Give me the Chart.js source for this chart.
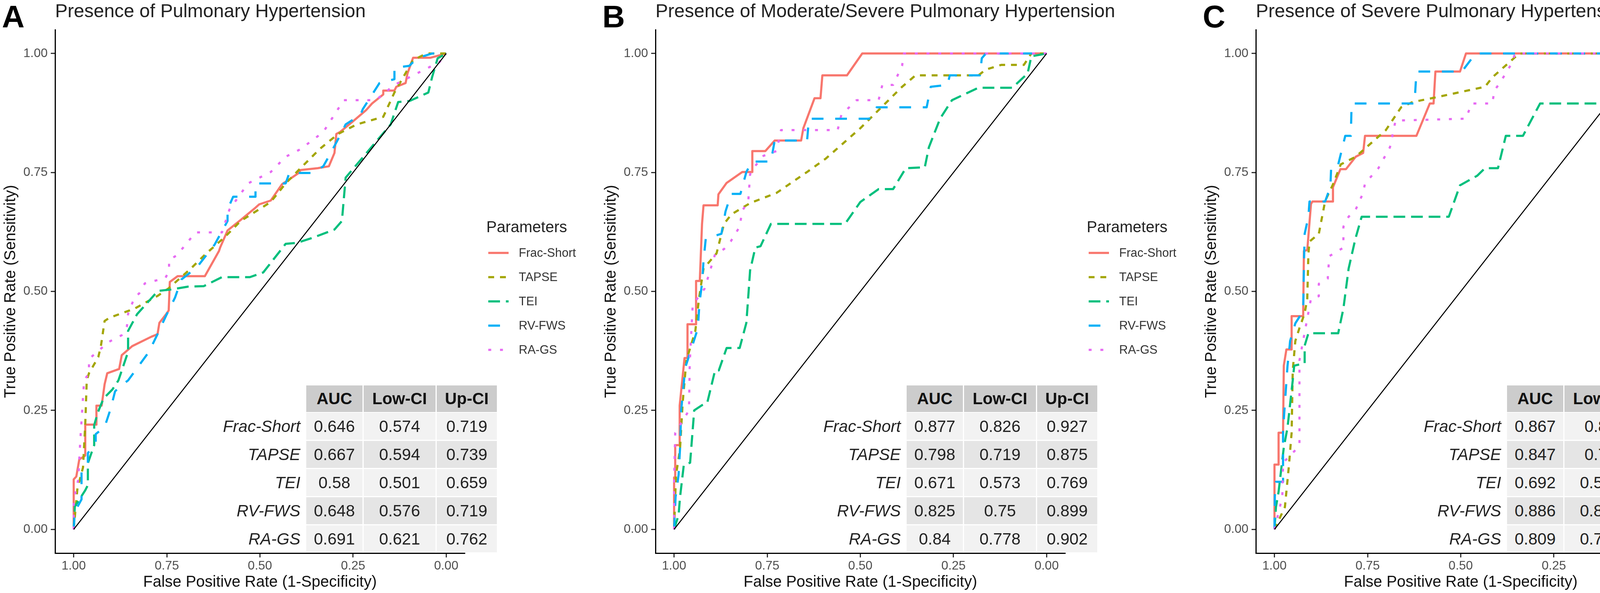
<!DOCTYPE html>
<html>
<head>
<meta charset="utf-8">
<script src="https://cdn.jsdelivr.net/npm/chart.js@4.4.1/dist/chart.umd.min.js"></script>
<style>
html, body { margin: 0; padding: 0; background: #fff; overflow: hidden; }
body { width: 4562px; height: 1517px; position: relative; font-family: "Liberation Sans", Arial, sans-serif; }
.panel { position: absolute; top: 0; width: 1537px; height: 1517px; }
.panel canvas { position: absolute; left: 0; top: 0; }
.tag { position: absolute; left: 5px; top: 3px; font-size: 80px; line-height: 80px; font-weight: bold; color: #000; }
.title { position: absolute; left: 141px; top: 4px; font-size: 48px; line-height: 48px; color: #222; white-space: nowrap; }
.leg-title { position: absolute; left: 1245px; top: 560px; font-size: 40px; line-height: 40px; color: #222; white-space: nowrap; }
.leg-item { position: absolute; left: 1250px; height: 40px; display: flex; align-items: center; white-space: nowrap; }
.leg-item span { margin-left: 26px; font-size: 31px; color: #333; }
.cell { position: absolute; display: flex; align-items: center; justify-content: center; font-size: 42px; color: #222; }
.head { background: #cccccc; font-weight: bold; color: #111; }
.rowname { justify-content: flex-end; font-style: italic; padding-right: 12px; box-sizing: border-box; }
</style>
</head>
<body>
<script>
// series, colours and line types (ggplot default hue palette / linetype palette)
const seriesNames = ["Frac-Short", "TAPSE", "TEI", "RV-FWS", "RA-GS"];
const seriesColors = ["#F8766D", "#A3A500", "#00BF7D", "#00B0F6", "#E76BF3"];
const seriesDash = [[], [15, 15], [30, 15], [30, 30], [7.5, 22.5]];
const axisTicks = [0, 0.25, 0.5, 0.75, 1];
const chanceLine = [[1, 0], [0, 1]];

const panelTags = ["A", "B", "C"];
const panelTitles = [
  "Presence of Pulmonary Hypertension",
  "Presence of Moderate/Severe Pulmonary Hypertension",
  "Presence of Severe Pulmonary Hypertension"
];
const tableHeader = ["AUC", "Low-CI", "Up-CI"];

// AUC table values [AUC, Low-CI, Up-CI] per series
const tableA = [[0.646, 0.574, 0.719], [0.667, 0.594, 0.739], [0.58, 0.501, 0.659], [0.648, 0.576, 0.719], [0.691, 0.621, 0.762]];
const tableB = [[0.877, 0.826, 0.927], [0.798, 0.719, 0.875], [0.671, 0.573, 0.769], [0.825, 0.75, 0.899], [0.84, 0.778, 0.902]];
const tableC = [[0.867, 0.81, 0.929], [0.847, 0.78, 0.914], [0.692, 0.575, 0.81], [0.886, 0.832, 0.94], [0.809, 0.733, 0.885]];

// ROC curves as [specificity, sensitivity]
// panel A
const aFracShort = [[1,0],[1,0.105],[0.993,0.111],[0.985,0.147],[0.969,0.155],[0.969,0.22],[0.939,0.22],[0.939,0.26],[0.925,0.26],[0.917,0.305],[0.91,0.328],[0.878,0.337],[0.871,0.366],[0.843,0.385],[0.791,0.405],[0.775,0.41],[0.77,0.434],[0.752,0.452],[0.745,0.46],[0.742,0.52],[0.721,0.532],[0.648,0.532],[0.61,0.585],[0.607,0.592],[0.587,0.628],[0.552,0.65],[0.512,0.676],[0.502,0.683],[0.471,0.691],[0.441,0.725],[0.396,0.749],[0.391,0.755],[0.345,0.759],[0.315,0.763],[0.3,0.791],[0.295,0.831],[0.285,0.835],[0.245,0.861],[0.215,0.881],[0.199,0.895],[0.169,0.914],[0.169,0.922],[0.139,0.922],[0.134,0.93],[0.109,0.938],[0.104,0.958],[0.089,0.991],[0.043,0.991],[0,1]];
const aTapse = [[1,0],[0.99,0.086],[0.975,0.13],[0.969,0.221],[0.965,0.313],[0.959,0.328],[0.934,0.362],[0.927,0.385],[0.917,0.438],[0.903,0.445],[0.836,0.464],[0.774,0.491],[0.746,0.506],[0.687,0.547],[0.648,0.577],[0.592,0.616],[0.552,0.648],[0.471,0.688],[0.431,0.727],[0.391,0.759],[0.34,0.799],[0.29,0.831],[0.24,0.851],[0.169,0.867],[0.139,0.918],[0.089,0.986],[0.053,1],[0,1]];
const aTei = [[1,0],[0.997,0.048],[0.969,0.082],[0.962,0.093],[0.962,0.139],[0.945,0.177],[0.945,0.219],[0.935,0.246],[0.92,0.275],[0.896,0.294],[0.88,0.313],[0.854,0.373],[0.854,0.417],[0.83,0.452],[0.774,0.501],[0.739,0.504],[0.693,0.51],[0.651,0.511],[0.602,0.53],[0.527,0.53],[0.491,0.54],[0.431,0.6],[0.401,0.602],[0.361,0.612],[0.3,0.63],[0.28,0.648],[0.27,0.739],[0.149,0.851],[0.129,0.898],[0.099,0.9],[0.048,0.918],[0.038,0.95],[0.023,0.99],[0,1]];
const aRvFws = [[1,0],[0.997,0.037],[0.979,0.063],[0.979,0.12],[0.962,0.139],[0.962,0.16],[0.941,0.184],[0.941,0.2],[0.917,0.215],[0.901,0.253],[0.889,0.29],[0.876,0.3],[0.854,0.313],[0.826,0.343],[0.798,0.373],[0.777,0.407],[0.752,0.449],[0.728,0.487],[0.711,0.525],[0.669,0.551],[0.622,0.598],[0.587,0.648],[0.587,0.672],[0.572,0.699],[0.512,0.699],[0.512,0.727],[0.431,0.727],[0.421,0.749],[0.361,0.749],[0.33,0.763],[0.31,0.791],[0.28,0.835],[0.27,0.851],[0.23,0.871],[0.224,0.883],[0.179,0.938],[0.139,0.946],[0.139,0.97],[0.099,0.974],[0.079,0.99],[0.038,1],[0,1]];
const aRaGs = [[1,0],[1,0.06],[0.988,0.104],[0.982,0.191],[0.976,0.265],[0.972,0.313],[0.959,0.328],[0.959,0.358],[0.925,0.381],[0.908,0.393],[0.871,0.408],[0.857,0.427],[0.854,0.453],[0.837,0.487],[0.824,0.496],[0.809,0.517],[0.754,0.528],[0.744,0.543],[0.744,0.566],[0.723,0.576],[0.673,0.624],[0.602,0.624],[0.582,0.672],[0.532,0.727],[0.471,0.751],[0.431,0.783],[0.391,0.799],[0.33,0.835],[0.275,0.902],[0.189,0.902],[0.139,0.934],[0.089,0.954],[0.018,0.982],[0,1]];
// panel B
const bFracShort = [[1,0],[1,0.109],[0.997,0.109],[0.997,0.177],[0.985,0.177],[0.985,0.26],[0.972,0.36],[0.964,0.36],[0.964,0.431],[0.941,0.431],[0.941,0.522],[0.931,0.522],[0.925,0.642],[0.921,0.681],[0.883,0.681],[0.881,0.704],[0.859,0.728],[0.817,0.751],[0.79,0.751],[0.79,0.795],[0.755,0.795],[0.73,0.817],[0.659,0.817],[0.653,0.843],[0.623,0.906],[0.607,0.906],[0.602,0.954],[0.536,0.954],[0.495,1],[0,1]];
const bTapse = [[1,0],[0.995,0.113],[0.984,0.17],[0.977,0.266],[0.967,0.355],[0.943,0.417],[0.933,0.486],[0.921,0.548],[0.886,0.58],[0.866,0.642],[0.846,0.662],[0.795,0.686],[0.725,0.707],[0.643,0.751],[0.593,0.779],[0.5,0.843],[0.388,0.93],[0.352,0.954],[0.183,0.954],[0.164,0.966],[0.122,0.976],[0.061,0.976],[0.041,1],[0,1]];
const bTei = [[1,0],[0.988,0.03],[0.984,0.068],[0.974,0.135],[0.957,0.14],[0.946,0.25],[0.925,0.261],[0.911,0.266],[0.89,0.334],[0.88,0.334],[0.859,0.381],[0.824,0.381],[0.806,0.434],[0.801,0.488],[0.796,0.544],[0.782,0.592],[0.768,0.595],[0.74,0.642],[0.541,0.642],[0.5,0.688],[0.451,0.715],[0.412,0.715],[0.378,0.759],[0.327,0.761],[0.316,0.803],[0.286,0.863],[0.254,0.902],[0.183,0.928],[0.092,0.928],[0.051,0.958],[0.041,0.994],[0,1]];
const bRvFws = [[1,0],[0.996,0.068],[0.988,0.114],[0.984,0.171],[0.981,0.25],[0.97,0.34],[0.953,0.381],[0.936,0.423],[0.932,0.475],[0.925,0.517],[0.921,0.564],[0.915,0.611],[0.873,0.621],[0.862,0.668],[0.847,0.705],[0.822,0.705],[0.806,0.751],[0.791,0.773],[0.74,0.773],[0.73,0.817],[0.643,0.817],[0.638,0.863],[0.476,0.863],[0.456,0.887],[0.322,0.887],[0.311,0.93],[0.266,0.934],[0.26,0.954],[0.179,0.954],[0.174,0.99],[0.163,1],[0,1]];
const bRaGs = [[1,0],[1,0.1],[0.997,0.203],[0.96,0.25],[0.958,0.35],[0.95,0.472],[0.918,0.506],[0.904,0.542],[0.89,0.578],[0.866,0.589],[0.848,0.605],[0.824,0.636],[0.817,0.67],[0.801,0.688],[0.796,0.746],[0.786,0.76],[0.76,0.785],[0.725,0.795],[0.713,0.839],[0.561,0.839],[0.551,0.871],[0.51,0.902],[0.451,0.902],[0.441,0.934],[0.412,0.934],[0.388,0.974],[0.383,1],[0,1]];
// panel C
const cFracShort = [[1,0],[1,0.136],[0.989,0.136],[0.989,0.203],[0.977,0.203],[0.975,0.344],[0.968,0.378],[0.954,0.378],[0.954,0.448],[0.923,0.448],[0.921,0.585],[0.912,0.587],[0.902,0.684],[0.898,0.689],[0.843,0.689],[0.843,0.719],[0.823,0.757],[0.808,0.757],[0.782,0.783],[0.762,0.791],[0.757,0.827],[0.619,0.827],[0.583,0.895],[0.573,0.895],[0.568,0.962],[0.502,0.962],[0.486,1],[0,1]];
const cTapse = [[1,0],[0.972,0.047],[0.961,0.136],[0.954,0.203],[0.951,0.334],[0.944,0.396],[0.933,0.423],[0.919,0.454],[0.912,0.485],[0.909,0.579],[0.906,0.605],[0.881,0.621],[0.864,0.69],[0.843,0.725],[0.822,0.767],[0.782,0.783],[0.701,0.839],[0.66,0.887],[0.629,0.898],[0.578,0.906],[0.435,0.93],[0.415,0.95],[0.343,1],[0,1]];
const cTei = [[1,0],[0.996,0.047],[0.989,0.079],[0.975,0.172],[0.965,0.214],[0.951,0.313],[0.947,0.344],[0.919,0.349],[0.919,0.386],[0.909,0.412],[0.829,0.412],[0.815,0.464],[0.801,0.548],[0.783,0.61],[0.766,0.657],[0.532,0.657],[0.502,0.723],[0.456,0.743],[0.435,0.759],[0.4,0.759],[0.379,0.827],[0.333,0.827],[0.287,0.895],[0.078,0.895],[0.058,0.934],[0.042,0.998],[0,1]];
const cRvFws = [[1,0],[0.999,0.07],[0.996,0.1],[0.977,0.1],[0.977,0.209],[0.965,0.344],[0.96,0.38],[0.958,0.396],[0.944,0.433],[0.923,0.459],[0.921,0.553],[0.919,0.621],[0.909,0.657],[0.906,0.689],[0.864,0.689],[0.85,0.72],[0.848,0.757],[0.832,0.757],[0.81,0.827],[0.795,0.827],[0.793,0.895],[0.624,0.895],[0.619,0.962],[0.497,0.962],[0.466,0.994],[0.461,1],[0,1]];
const cRaGs = [[1,0],[0.979,0.068],[0.977,0.14],[0.937,0.172],[0.933,0.177],[0.933,0.355],[0.902,0.485],[0.881,0.49],[0.881,0.516],[0.857,0.527],[0.853,0.574],[0.815,0.592],[0.815,0.636],[0.801,0.657],[0.782,0.672],[0.762,0.707],[0.757,0.727],[0.721,0.759],[0.69,0.803],[0.675,0.859],[0.486,0.863],[0.471,0.895],[0.415,0.895],[0.41,0.922],[0.395,0.938],[0.364,0.978],[0.354,1],[0,1]];

const panelCurves = [
  [aFracShort, aTapse, aTei, aRvFws, aRaGs],
  [bFracShort, bTapse, bTei, bRvFws, bRaGs],
  [cFracShort, cTapse, cTei, cRvFws, cRaGs]
];
const panelTables = [tableA, tableB, tableC];

Chart.defaults.font.family = '"Liberation Sans", Arial, sans-serif';

const PW = 1537, PH = 1517;

function axisOpts(isX) {
  return {
    type: 'linear',
    min: -0.05,
    max: 1.05,
    reverse: isX,
    afterBuildTicks: function (s) { s.ticks = axisTicks.map(v => ({ value: v })); },
    afterFit: function (s) { if (isX) s.height = 102; else s.width = 141; },
    ticks: {
      callback: v => Number(v).toFixed(2),
      font: { size: 32 },
      color: '#4d4d4d',
      padding: isX ? 3 : 8,
      autoSkip: false,
      maxRotation: 0
    },
    grid: { drawOnChartArea: false, drawTicks: true, tickLength: 11, tickColor: '#333333', tickWidth: 3 },
    border: { display: true, color: '#000', width: 3 },
    title: {
      display: true,
      text: isX ? 'False Positive Rate (1-Specificity)' : 'True Positive Rate (Sensitivity)',
      color: '#111',
      font: { size: 40 },
      padding: isX ? { top: 0, bottom: 3 } : { top: 4, bottom: 0 }
    }
  };
}

function makePanel(i) {
  const panel = document.createElement('div');
  panel.className = 'panel';
  panel.style.left = (i * PW) + 'px';
  document.body.appendChild(panel);

  const canvas = document.createElement('canvas');
  canvas.width = PW;
  canvas.height = PH;
  canvas.style.width = PW + 'px';
  canvas.style.height = PH + 'px';
  panel.appendChild(canvas);

  const datasets = seriesNames.map((name, k) => ({
    label: name,
    data: panelCurves[i][k].map(p => ({ x: p[0], y: p[1] })),
    borderColor: seriesColors[k],
    borderWidth: 5.5,
    borderDash: seriesDash[k],
    borderCapStyle: 'butt',
    borderJoinStyle: 'round',
    pointRadius: 0,
    fill: false,
    tension: 0,
    order: 6 - k
  }));
  datasets.push({
    label: 'chance',
    data: chanceLine.map(p => ({ x: p[0], y: p[1] })),
    borderColor: '#000',
    borderWidth: 2.5,
    pointRadius: 0,
    fill: false,
    order: 0
  });

  new Chart(canvas, {
    type: 'line',
    data: { datasets: datasets },
    options: {
      responsive: false,
      animation: false,
      devicePixelRatio: 1,
      layout: { padding: { left: 0, top: 76, right: 347, bottom: 0 } },
      plugins: { legend: { display: false }, tooltip: { enabled: false }, title: { display: false } },
      scales: { x: axisOpts(true), y: axisOpts(false) }
    }
  });

  // panel letter and title
  const tag = document.createElement('div');
  tag.className = 'tag';
  tag.textContent = panelTags[i];
  panel.appendChild(tag);
  const title = document.createElement('div');
  title.className = 'title';
  title.textContent = panelTitles[i];
  panel.appendChild(title);

  // legend
  const lt = document.createElement('div');
  lt.className = 'leg-title';
  lt.textContent = 'Parameters';
  panel.appendChild(lt);
  seriesNames.forEach((name, k) => {
    const item = document.createElement('div');
    item.className = 'leg-item';
    item.style.top = (627 + k * 62) + 'px';
    const dash = seriesDash[k].length ? ' stroke-dasharray="' + seriesDash[k].join(' ') + '"' : '';
    item.innerHTML = '<svg width="52" height="12"><line x1="0" y1="6" x2="52" y2="6" stroke="' + seriesColors[k] +
      '" stroke-width="5.5"' + dash + '/></svg><span>' + name + '</span>';
    panel.appendChild(item);
  });

  // AUC table
  const colX = [784, 931, 1118];
  const colW = [144, 184, 154];
  function cell(text, x, y, w, h, cls, bg) {
    const d = document.createElement('div');
    d.className = 'cell ' + cls;
    d.style.left = x + 'px';
    d.style.top = y + 'px';
    d.style.width = w + 'px';
    d.style.height = h + 'px';
    if (bg) d.style.background = bg;
    d.textContent = text;
    panel.appendChild(d);
  }
  tableHeader.forEach((h, c) => cell(h, colX[c], 986, colW[c], 68, 'head'));
  panelTables[i].forEach((row, r) => {
    const y = 1056 + r * 72;
    const bg = r % 2 === 0 ? '#f2f2f2' : '#e5e5e5';
    cell(seriesNames[r], 480, y, 301, 69, 'rowname');
    row.forEach((v, c) => cell(String(v), colX[c], y, colW[c], 69, '', bg));
  });
}

for (let i = 0; i < 3; i++) makePanel(i);
</script>
</body>
</html>
